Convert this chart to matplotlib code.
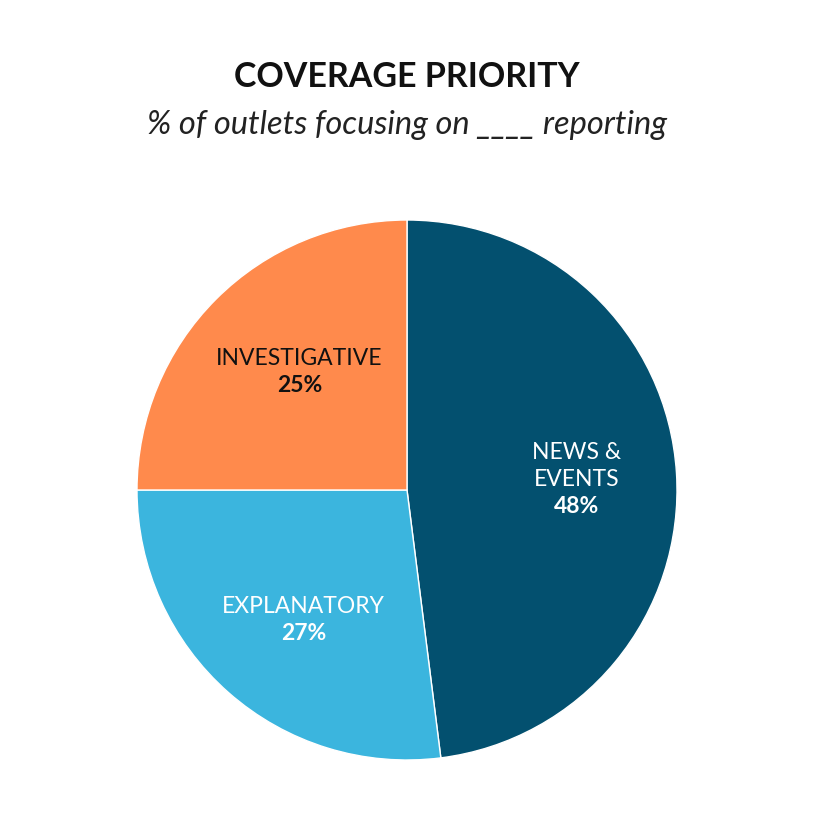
import numpy as np
import matplotlib
matplotlib.use("Agg")
import matplotlib.pyplot as plt

categories = ["NEWS &\nEVENTS", "EXPLANATORY", "INVESTIGATIVE"]
shares = [48, 27, 25]
colors = ["#03506f", "#3bb5de", "#ff8a4c"]
label_colors = ["white", "white", "#111111"]

plt.rcParams['font.family'] = ['Lato', 'DejaVu Sans']

fig = plt.figure(figsize=(8.4, 8.4), dpi=100)
fig.patch.set_facecolor("white")

fig.text(0.4845, 1 - 77 / 840, "COVERAGE PRIORITY", ha="center", va="center",
         fontsize=24.5, fontweight="bold", color="#111111")
fig.text(0.4845, 1 - 125 / 840, "% of outlets focusing on ____ reporting",
         ha="center", va="center", fontsize=23.5, style="italic", color="#222222")

r = 270 / 840
cx, cy = 407 / 840, 1 - 490 / 840
ax = fig.add_axes([cx - r, cy - r, 2 * r, 2 * r])
wedges, _ = ax.pie(shares, colors=colors, startangle=90, counterclock=False,
                   wedgeprops=dict(edgecolor="white", linewidth=1))
ax.set_xlim(-1, 1)
ax.set_ylim(-1, 1)
ax.set_aspect("equal")
ax.axis("off")

# label block centred on the wedge's mid angle
dists = [0.63, 0.64, 0.62]
step = 0.1
for w, name, val, col, d in zip(wedges, categories, shares, label_colors, dists):
    mid = np.deg2rad((w.theta1 + w.theta2) / 2)
    x, y = d * np.cos(mid), d * np.sin(mid)
    if name in ("INVESTIGATIVE", "EXPLANATORY"):
        x += 0.04
    lines = name.split("\n") + [f"{val}%"]
    top = y + step * (len(lines) - 1) / 2
    for i, ln in enumerate(lines):
        bold = i == len(lines) - 1
        ax.text(x, top - i * step, ln, ha="center", va="center",
                fontsize=16.5, color=col, fontweight="bold" if bold else "normal")

fig.savefig("out.png", dpi=100)
